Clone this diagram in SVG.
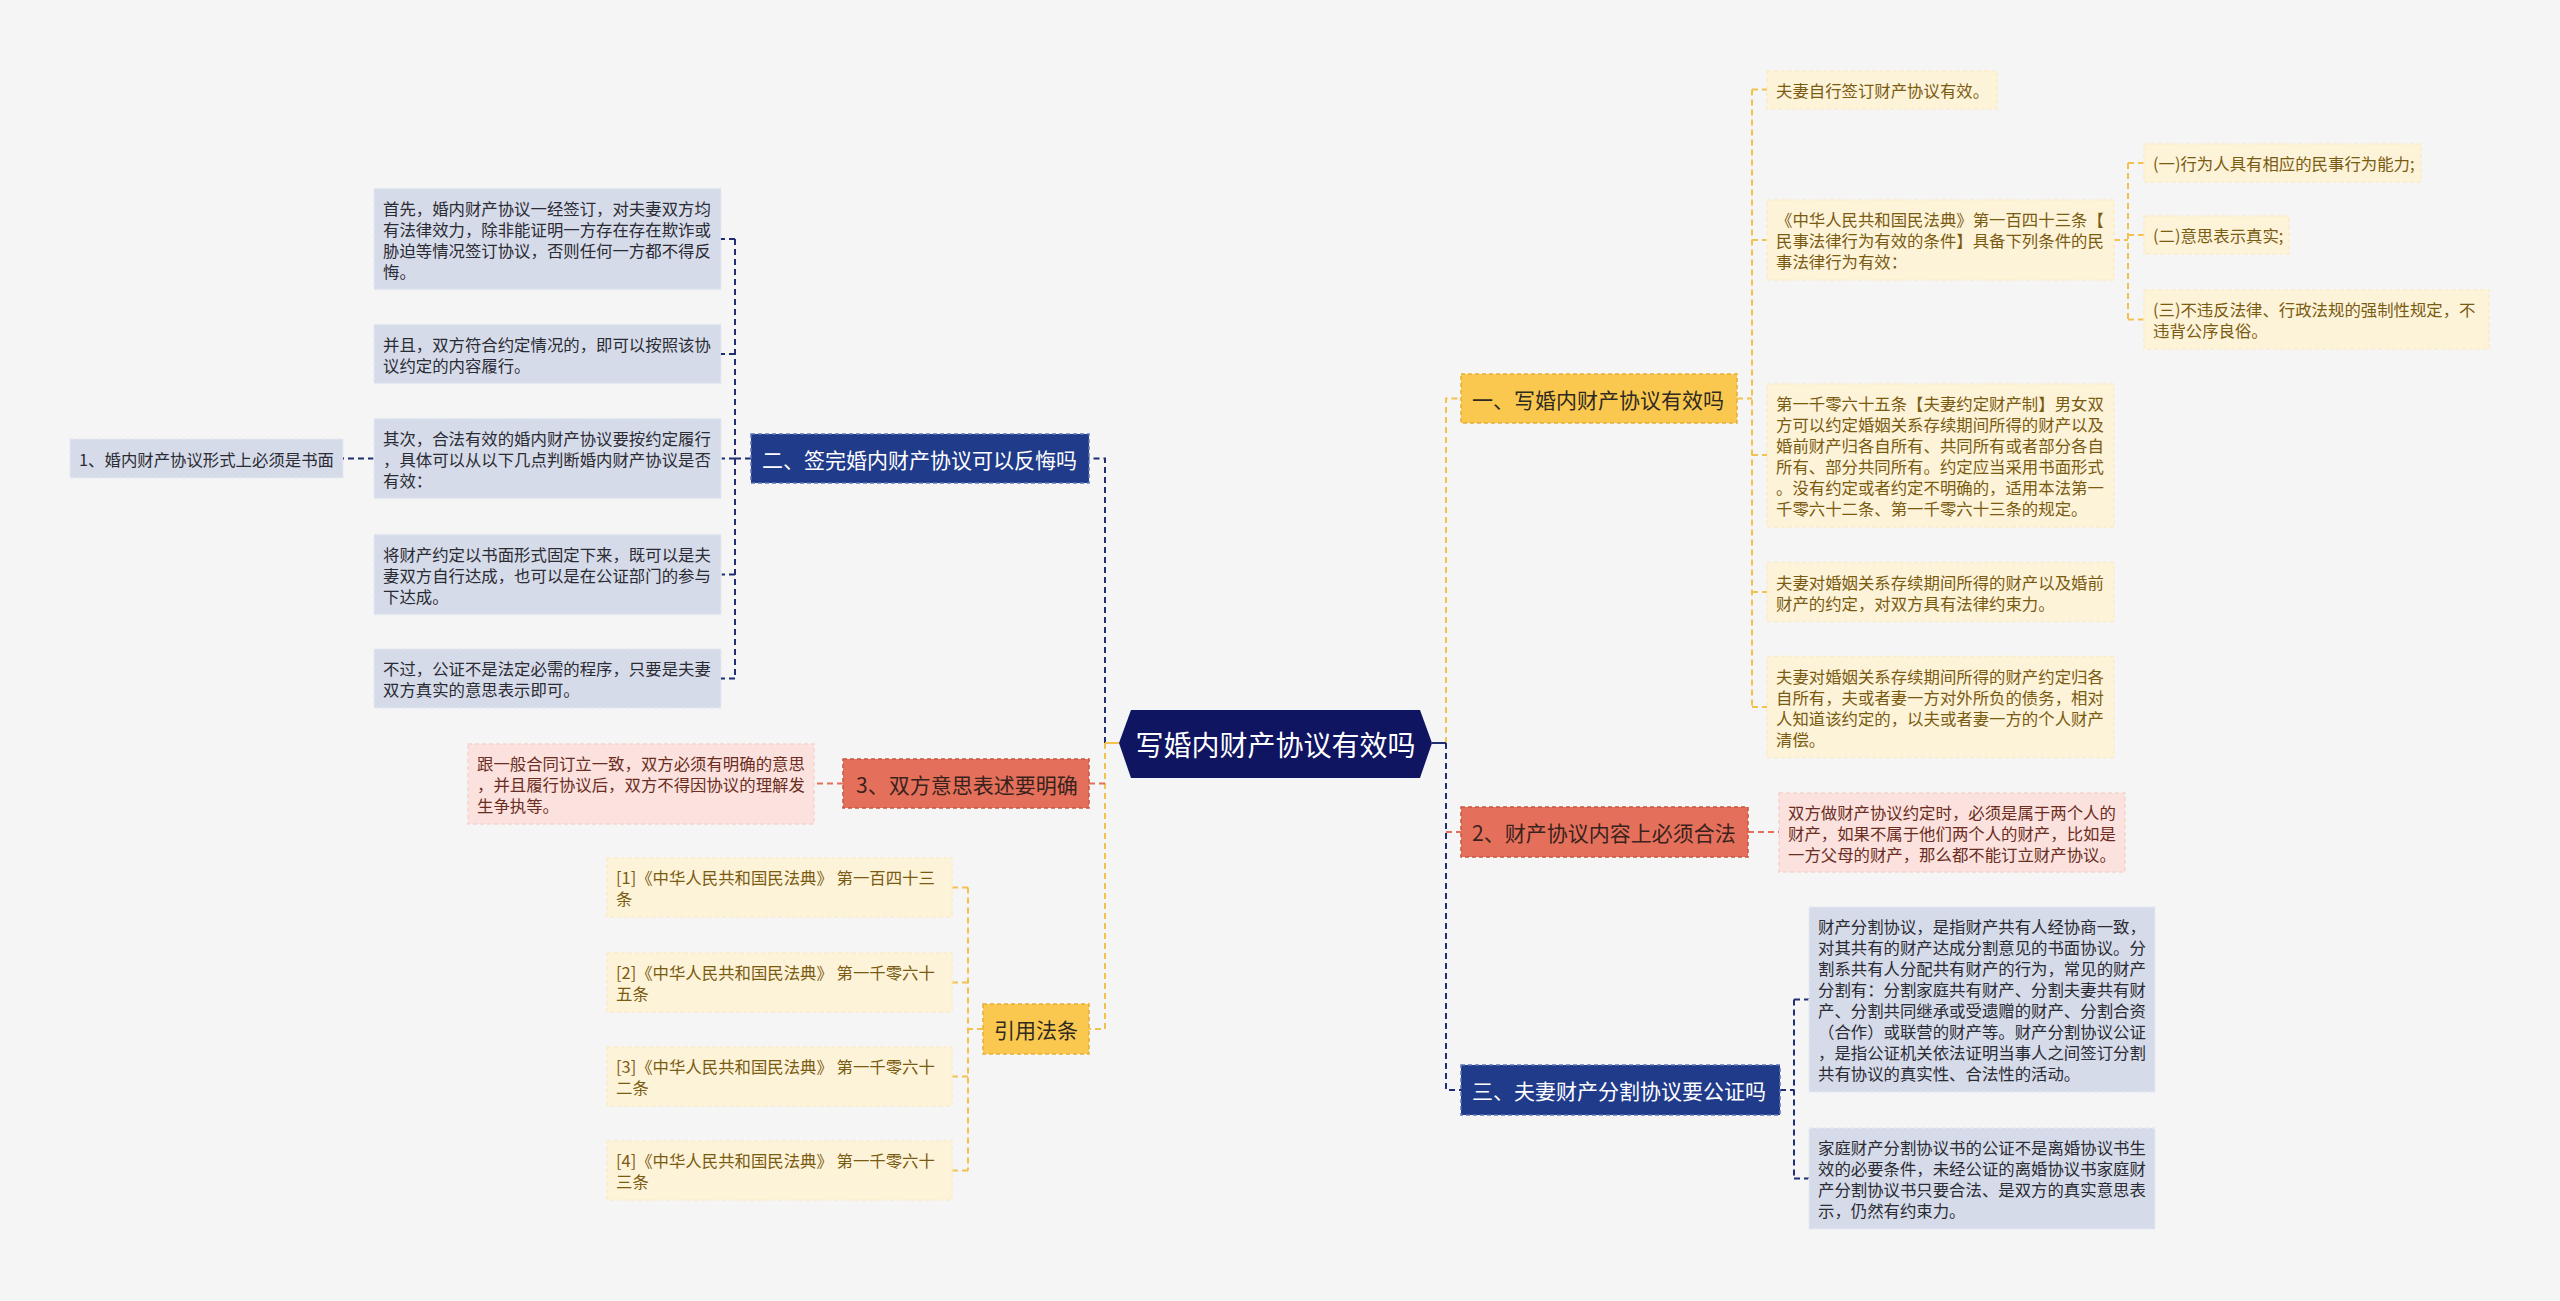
<svg xmlns="http://www.w3.org/2000/svg" width="2560" height="1301" viewBox="0 0 2560 1301">
<style>
text{font-family:"Noto Sans CJK SC","Noto Sans",sans-serif;dominant-baseline:central}
.lt{font-size:16.4px}
.nt{font-size:21px}
.ct{font-size:28px;fill:#fff;text-anchor:middle}
.cn{fill:none;stroke-width:2;stroke-dasharray:6 4}
.cs{fill:none;stroke-width:2}
.nv{stroke:#1f2f72}
.yl{stroke:#f3c14e}
.sl{stroke:#e4705c}
.n-nv rect{fill:#213b8b;stroke:#5d74b8;stroke-width:1.5;stroke-dasharray:4 3}
.n-nv text{fill:#fff}
.n-yl rect{fill:#fbc84f;stroke:#e6ad35;stroke-width:1.5;stroke-dasharray:4 3}
.n-yl text{fill:#2e2a22}
.n-sl rect{fill:#e4705c;stroke:#c9543f;stroke-width:1.5;stroke-dasharray:4 3}
.n-sl text{fill:#3a221c}
.l-nv rect{fill:#d6dbea;stroke:#e6e9f2;stroke-width:1.5;stroke-dasharray:4 3}
.l-nv text{fill:#2b2b33}
.l-yl rect{fill:#fdf3d8;stroke:#fbecc6;stroke-width:1.5;stroke-dasharray:4 3}
.l-yl text{fill:#7a5b12}
.l-sl rect{fill:#fbe2de;stroke:#f6d3cd;stroke-width:1.5;stroke-dasharray:4 3}
.l-sl text{fill:#6b2d22}
</style>
<rect x="0" y="0" width="2560" height="1301" fill="#f5f5f5"/>

<g id="connectors">
  <!-- left trunk -->
  <path class="cn nv" d="M1105 743 V458.5 H1089"/>
  <path class="cn yl" d="M1105 743 V1029 H1089"/>
  <path class="cn sl" d="M1105 783.5 H1089"/>
  <path class="cs yl" d="M1119 743 H1105"/>
  <!-- right trunk -->
  <path class="cn yl" d="M1446 743 V398.5 H1461"/>
  <path class="cn nv" d="M1446 743 V1090 H1461"/>
  <path class="cn sl" d="M1446 832 H1461"/>
  <path class="cs nv" d="M1432 743 H1446"/>
  <!-- node 二 children -->
  <path class="cn nv" d="M751 458.5 H735"/>
  <path class="cn nv" d="M735 239 V678.5"/>
  <path class="cn nv" d="M735 239 H721 M735 354 H721 M735 458.5 H721 M735 574.5 H721 M735 678.5 H721"/>
  <path class="cn nv" d="M374 458.5 H343"/>
  <!-- node 3 child -->
  <path class="cn sl" d="M843 783.5 H814"/>
  <!-- 引用法条 children -->
  <path class="cn yl" d="M983 1029 H968"/>
  <path class="cn yl" d="M968 887.5 V1170.5"/>
  <path class="cn yl" d="M968 887.5 H952 M968 982.5 H952 M968 1076.5 H952 M968 1170.5 H952"/>
  <!-- node 一 children -->
  <path class="cn yl" d="M1737 398.5 H1752"/>
  <path class="cn yl" d="M1752 89.5 V707"/>
  <path class="cn yl" d="M1752 89.5 H1767 M1752 240 H1767 M1752 455 H1767 M1752 592 H1767 M1752 707 H1767"/>
  <path class="cn yl" d="M2114 240 H2128"/>
  <path class="cn yl" d="M2128 163 V319.5"/>
  <path class="cn yl" d="M2128 163 H2144 M2128 235 H2144 M2128 319.5 H2144"/>
  <!-- node 2 child -->
  <path class="cn sl" d="M1748 832 H1779"/>
  <!-- node 三 children -->
  <path class="cn nv" d="M1780 1090 H1794"/>
  <path class="cn nv" d="M1794 999.5 V1178.5"/>
  <path class="cn nv" d="M1794 999.5 H1809 M1794 1178.5 H1809"/>
</g>

<g id="center">
  <polygon points="1119,743 1131,710 1420,710 1432,743 1420,778 1131,778" fill="#0f1561"/>
  <text class="ct" x="1275.5" y="744">写婚内财产协议有效吗</text>
</g>

<g id="node-er" class="n-nv">
  <rect x="751" y="434" width="338" height="49"/>
  <text class="nt" x="762" y="458.5">二、签完婚内财产协议可以反悔吗</text>
</g>
<g id="leaf-er-1" class="l-nv">
  <rect x="374" y="188.5" width="347" height="101"/>
  <text class="lt" x="383" y="207.5">首先，婚内财产协议一经签订，对夫妻双方均</text>
  <text class="lt" x="383" y="228.5">有法律效力，除非能证明一方存在存在欺诈或</text>
  <text class="lt" x="383" y="249.5">胁迫等情况签订协议，否则任何一方都不得反</text>
  <text class="lt" x="383" y="270.5">悔。</text>
</g>
<g id="leaf-er-2" class="l-nv">
  <rect x="374" y="324.5" width="347" height="59"/>
  <text class="lt" x="383" y="343.5">并且，双方符合约定情况的，即可以按照该协</text>
  <text class="lt" x="383" y="364.5">议约定的内容履行。</text>
</g>
<g id="leaf-er-3" class="l-nv">
  <rect x="374" y="418.5" width="347" height="80"/>
  <text class="lt" x="383" y="437.5">其次，合法有效的婚内财产协议要按约定履行</text>
  <text class="lt" x="383" y="458.5">，具体可以从以下几点判断婚内财产协议是否</text>
  <text class="lt" x="383" y="479.5">有效：</text>
</g>
<g id="leaf-er-3-1" class="l-nv">
  <rect x="70" y="439" width="273" height="39"/>
  <text class="lt" x="79" y="458.5">1、婚内财产协议形式上必须是书面</text>
</g>
<g id="leaf-er-4" class="l-nv">
  <rect x="374" y="534.5" width="347" height="80"/>
  <text class="lt" x="383" y="553.5">将财产约定以书面形式固定下来，既可以是夫</text>
  <text class="lt" x="383" y="574.5">妻双方自行达成，也可以是在公证部门的参与</text>
  <text class="lt" x="383" y="595.5">下达成。</text>
</g>
<g id="leaf-er-5" class="l-nv">
  <rect x="374" y="649" width="347" height="59"/>
  <text class="lt" x="383" y="668">不过，公证不是法定必需的程序，只要是夫妻</text>
  <text class="lt" x="383" y="689">双方真实的意思表示即可。</text>
</g>

<g id="node-3" class="n-sl">
  <rect x="843" y="759" width="246" height="49"/>
  <text class="nt" x="856" y="783.5">3、双方意思表述要明确</text>
</g>
<g id="leaf-3-1" class="l-sl">
  <rect x="468" y="744" width="346" height="80"/>
  <text class="lt" x="477" y="763">跟一般合同订立一致，双方必须有明确的意思</text>
  <text class="lt" x="477" y="784">，并且履行协议后，双方不得因协议的理解发</text>
  <text class="lt" x="477" y="805">生争执等。</text>
</g>

<g id="node-law" class="n-yl">
  <rect x="983" y="1004" width="106" height="50"/>
  <text class="nt" x="994" y="1029">引用法条</text>
</g>
<g id="leaf-law-1" class="l-yl">
  <rect x="607" y="858" width="345" height="59"/>
  <text class="lt" x="616" y="877">[1]《中华人民共和国民法典》 第一百四十三</text>
  <text class="lt" x="616" y="898">条</text>
</g>
<g id="leaf-law-2" class="l-yl">
  <rect x="607" y="953" width="345" height="59"/>
  <text class="lt" x="616" y="972">[2]《中华人民共和国民法典》 第一千零六十</text>
  <text class="lt" x="616" y="993">五条</text>
</g>
<g id="leaf-law-3" class="l-yl">
  <rect x="607" y="1047" width="345" height="59"/>
  <text class="lt" x="616" y="1066">[3]《中华人民共和国民法典》 第一千零六十</text>
  <text class="lt" x="616" y="1087">二条</text>
</g>
<g id="leaf-law-4" class="l-yl">
  <rect x="607" y="1141" width="345" height="59"/>
  <text class="lt" x="616" y="1160">[4]《中华人民共和国民法典》 第一千零六十</text>
  <text class="lt" x="616" y="1181">三条</text>
</g>

<g id="node-yi" class="n-yl">
  <rect x="1461" y="374" width="276" height="49"/>
  <text class="nt" x="1472" y="398.5">一、写婚内财产协议有效吗</text>
</g>
<g id="leaf-yi-1" class="l-yl">
  <rect x="1767" y="71" width="230" height="38"/>
  <text class="lt" x="1776" y="90">夫妻自行签订财产协议有效。</text>
</g>
<g id="leaf-yi-2" class="l-yl">
  <rect x="1767" y="200" width="347" height="80"/>
  <text class="lt" x="1776" y="219">《中华人民共和国民法典》第一百四十三条【</text>
  <text class="lt" x="1776" y="240">民事法律行为有效的条件】具备下列条件的民</text>
  <text class="lt" x="1776" y="261">事法律行为有效：</text>
</g>
<g id="leaf-yi-2-1" class="l-yl">
  <rect x="2144" y="144" width="277" height="38"/>
  <text class="lt" x="2153" y="163">(一)行为人具有相应的民事行为能力;</text>
</g>
<g id="leaf-yi-2-2" class="l-yl">
  <rect x="2144" y="216" width="145" height="38"/>
  <text class="lt" x="2153" y="235">(二)意思表示真实;</text>
</g>
<g id="leaf-yi-2-3" class="l-yl">
  <rect x="2144" y="290" width="345" height="59"/>
  <text class="lt" x="2153" y="309">(三)不违反法律、行政法规的强制性规定，不</text>
  <text class="lt" x="2153" y="330">违背公序良俗。</text>
</g>
<g id="leaf-yi-3" class="l-yl">
  <rect x="1767" y="384" width="347" height="143"/>
  <text class="lt" x="1776" y="403">第一千零六十五条【夫妻约定财产制】男女双</text>
  <text class="lt" x="1776" y="424">方可以约定婚姻关系存续期间所得的财产以及</text>
  <text class="lt" x="1776" y="445">婚前财产归各自所有、共同所有或者部分各自</text>
  <text class="lt" x="1776" y="466">所有、部分共同所有。约定应当采用书面形式</text>
  <text class="lt" x="1776" y="487">。没有约定或者约定不明确的，适用本法第一</text>
  <text class="lt" x="1776" y="508">千零六十二条、第一千零六十三条的规定。</text>
</g>
<g id="leaf-yi-4" class="l-yl">
  <rect x="1767" y="562.5" width="347" height="59"/>
  <text class="lt" x="1776" y="581.5">夫妻对婚姻关系存续期间所得的财产以及婚前</text>
  <text class="lt" x="1776" y="602.5">财产的约定，对双方具有法律约束力。</text>
</g>
<g id="leaf-yi-5" class="l-yl">
  <rect x="1767" y="656.5" width="347" height="101"/>
  <text class="lt" x="1776" y="675.5">夫妻对婚姻关系存续期间所得的财产约定归各</text>
  <text class="lt" x="1776" y="696.5">自所有，夫或者妻一方对外所负的债务，相对</text>
  <text class="lt" x="1776" y="717.5">人知道该约定的，以夫或者妻一方的个人财产</text>
  <text class="lt" x="1776" y="738.5">清偿。</text>
</g>

<g id="node-2" class="n-sl">
  <rect x="1461" y="807" width="287" height="50"/>
  <text class="nt" x="1472" y="832">2、财产协议内容上必须合法</text>
</g>
<g id="leaf-2-1" class="l-sl">
  <rect x="1779" y="793" width="346" height="79"/>
  <text class="lt" x="1788" y="812">双方做财产协议约定时，必须是属于两个人的</text>
  <text class="lt" x="1788" y="833">财产，如果不属于他们两个人的财产，比如是</text>
  <text class="lt" x="1788" y="854">一方父母的财产，那么都不能订立财产协议。</text>
</g>

<g id="node-san" class="n-nv">
  <rect x="1461" y="1065" width="319" height="50"/>
  <text class="nt" x="1472" y="1090">三、夫妻财产分割协议要公证吗</text>
</g>
<g id="leaf-san-1" class="l-nv">
  <rect x="1809" y="907" width="346" height="185"/>
  <text class="lt" x="1818" y="926">财产分割协议，是指财产共有人经协商一致，</text>
  <text class="lt" x="1818" y="947">对其共有的财产达成分割意见的书面协议。分</text>
  <text class="lt" x="1818" y="968">割系共有人分配共有财产的行为，常见的财产</text>
  <text class="lt" x="1818" y="989">分割有：分割家庭共有财产、分割夫妻共有财</text>
  <text class="lt" x="1818" y="1010">产、分割共同继承或受遗赠的财产、分割合资</text>
  <text class="lt" x="1818" y="1031">（合作）或联营的财产等。财产分割协议公证</text>
  <text class="lt" x="1818" y="1052">，是指公证机关依法证明当事人之间签订分割</text>
  <text class="lt" x="1818" y="1073">共有协议的真实性、合法性的活动。</text>
</g>
<g id="leaf-san-2" class="l-nv">
  <rect x="1809" y="1128" width="346" height="101"/>
  <text class="lt" x="1818" y="1147">家庭财产分割协议书的公证不是离婚协议书生</text>
  <text class="lt" x="1818" y="1168">效的必要条件，未经公证的离婚协议书家庭财</text>
  <text class="lt" x="1818" y="1189">产分割协议书只要合法、是双方的真实意思表</text>
  <text class="lt" x="1818" y="1210">示，仍然有约束力。</text>
</g>
</svg>
